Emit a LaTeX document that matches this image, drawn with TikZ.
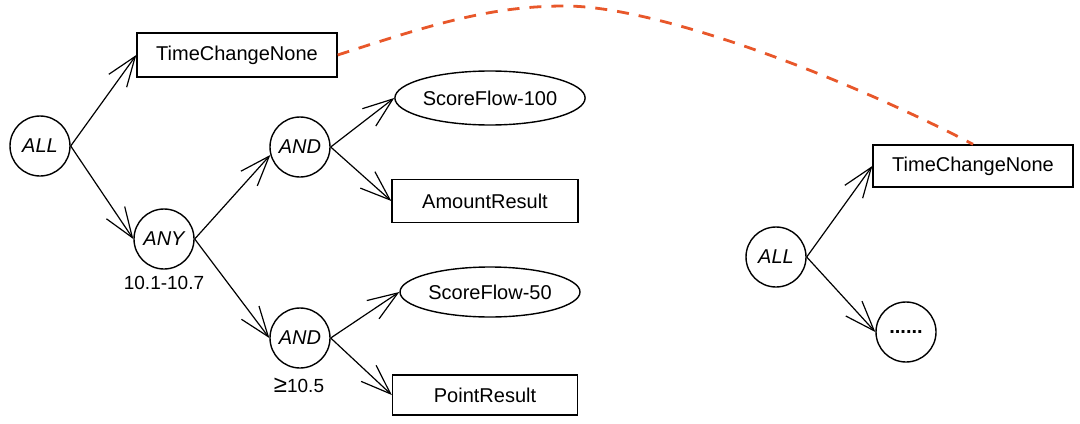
\documentclass[tikz,border=0pt]{standalone}
\usepackage{fontspec}
\setmainfont{Liberation Sans}
\usetikzlibrary{arrows.meta,shapes.geometric}
\definecolor{linkorange}{HTML}{E8572A}

\begin{document}
\begin{tikzpicture}[x=0.5pt,y=-0.5pt,
  op/.style={draw,circle,line width=0.7pt,minimum size=30pt,inner sep=0pt,font=\itshape},
  leaf/.style={draw,rectangle,line width=0.7pt,minimum width=100pt,minimum height=22pt,inner sep=0pt},
  flow/.style={draw,ellipse,line width=0.7pt,minimum width=90pt,minimum height=27pt,inner sep=0pt},
  link/.style={line width=0.6pt,-{Straight Barb[length=15pt,width=11pt]}},
  note/.style={font=\fontsize{9.5}{11}\selectfont}]
  \useasboundingbox (0,0) rectangle (1080,423);

  % First rule tree
  \node[op]   (all)  at (40,146)  {ALL};
  \node[leaf] (tcn)  at (237,55)  {TimeChangeNone};
  \node[op]   (any)  at (164,239) {ANY};
  \node[note] (anyrange) at (164,283) {10.1-10.7};

  % Branches under ANY
  \node[op]   (andA) at (300,147) {AND};
  \node[flow] (sfA)  at (490,98)  {ScoreFlow-100};
  \node[leaf,minimum width=93pt,minimum height=21.5pt] (amount) at (485,201) {AmountResult};

  \node[op]   (andB) at (300,338) {AND};
  \node[note] (andmin) at (299,385) {{\large ≥}10.5};
  \node[flow,minimum height=25pt] (sfB) at (490,292) {ScoreFlow-50};
  \node[leaf,minimum width=92.5pt,minimum height=20pt] (point) at (485,395) {PointResult};

  % Second rule tree
  \node[op]   (allB) at (776,257) {ALL};
  \node[leaf,minimum height=21pt] (tcnB) at (973,166) {TimeChangeNone};
  \node[op,font=\bfseries] (more) at (906,332) {......};

  % Connectors
  \draw[link] (all.east)  -- (tcn.west);
  \draw[link] (all.east)  -- (any.west);
  \draw[link] (any.east)  -- (andA.195);
  \draw[link] (any.east)  -- (andB.west);
  \draw[link] (andA.east) -- (sfA.west);
  \draw[link] (andA.east) -- (amount.west);
  \draw[link] (andB.east) -- (sfB.west);
  \draw[link] (andB.east) -- (point.west);
  \draw[link] (allB.east) -- (tcnB.west);
  \draw[link] (allB.east) -- (more.west);

  % Dashed link between the two TimeChangeNone boxes
  \coordinate (peak) at (565,6);
  \draw[linkorange,line width=1.4pt,dash pattern=on 6pt off 5pt]
    (tcn.east) .. controls (430,25) and (490,6) .. (peak)
    .. controls (660,6) and (850,80) .. (tcnB.north);
\end{tikzpicture}
\end{document}
